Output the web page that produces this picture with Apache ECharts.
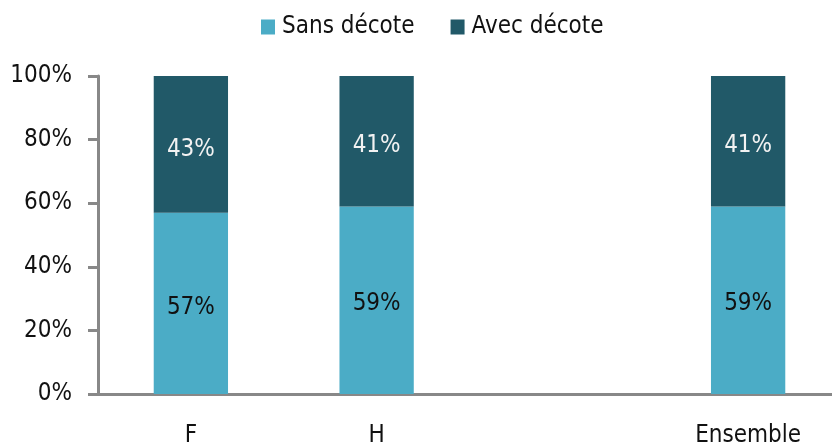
<!DOCTYPE html>
<html lang="fr">
<head>
    <meta charset="UTF-8">
    <title>Décote</title>
    <script src="https://cdnjs.cloudflare.com/ajax/libs/echarts/6.0.0/echarts.min.js"></script>
</head>
<body style="margin:0;background:#fff;">
    <div id="main" style="width:832px;height:448px;"></div>
    <script type="text/javascript">
        // catégories (la 3e est vide dans l'original)
        const categories = ['F', 'H', '', 'Ensemble'];
        const sansDecote = [57, 59, null, 59];
        const avecDecote = [43, 41, null, 41];
        const yTicks = [0, 20, 40, 60, 80, 100];

        const police = '"Liberation Sans Narrow", "DejaVu Sans Condensed", "Arial Narrow", sans-serif';
        const chart = echarts.init(document.getElementById('main'));

        let option = {
            animation: false,
            legend: {
                top: 10,
                left: 256,
                itemWidth: 14,
                itemHeight: 15,
                itemGap: 36,
                icon: 'rect',
                textStyle: { fontFamily: police, fontSize: 24, color: '#111', padding: [0, 0, 0, 2] },
                data: ['Sans décote', 'Avec décote']
            },
            // la grille déborde à droite comme dans l'original
            grid: { left: 98, right: -9, top: 76, bottom: 54, outerBoundsMode: 'none' },
            xAxis: {
                type: 'category',
                data: categories,
                axisLine: { lineStyle: { color: '#888', width: 3 } },
                axisTick: { show: false },
                axisLabel: { fontFamily: police, fontSize: 24, color: '#111', margin: 30 }
            },
            yAxis: {
                type: 'value',
                min: 0,
                max: 100,
                interval: 20,
                axisLine: { show: true, lineStyle: { color: '#888', width: 3 } },
                axisTick: { show: true, length: 10, lineStyle: { color: '#888', width: 3 } },
                splitLine: { show: false },
                axisLabel: {
                    fontFamily: police, fontSize: 24, color: '#111', margin: 26,
                    formatter: v => yTicks.includes(v) ? v + '%' : ''
                }
            },
            series: [
                {
                    name: 'Sans décote',
                    type: 'bar',
                    stack: 'total',
                    barWidth: '40%',
                    itemStyle: { color: '#4bacc6' },
                    label: {
                        show: true, position: 'inside', offset: [0, 4],
                        formatter: p => p.value + '%',
                        fontFamily: police, fontSize: 24, color: '#111'
                    },
                    data: sansDecote
                },
                {
                    name: 'Avec décote',
                    type: 'bar',
                    stack: 'total',
                    barWidth: '40%',
                    itemStyle: { color: '#215968' },
                    label: {
                        show: true, position: 'inside', offset: [0, 5],
                        formatter: p => p.value + '%',
                        fontFamily: police, fontSize: 24, color: '#f2f2f2'
                    },
                    data: avecDecote
                }
            ]
        };
        chart.setOption(option);
    </script>
</body>
</html>
